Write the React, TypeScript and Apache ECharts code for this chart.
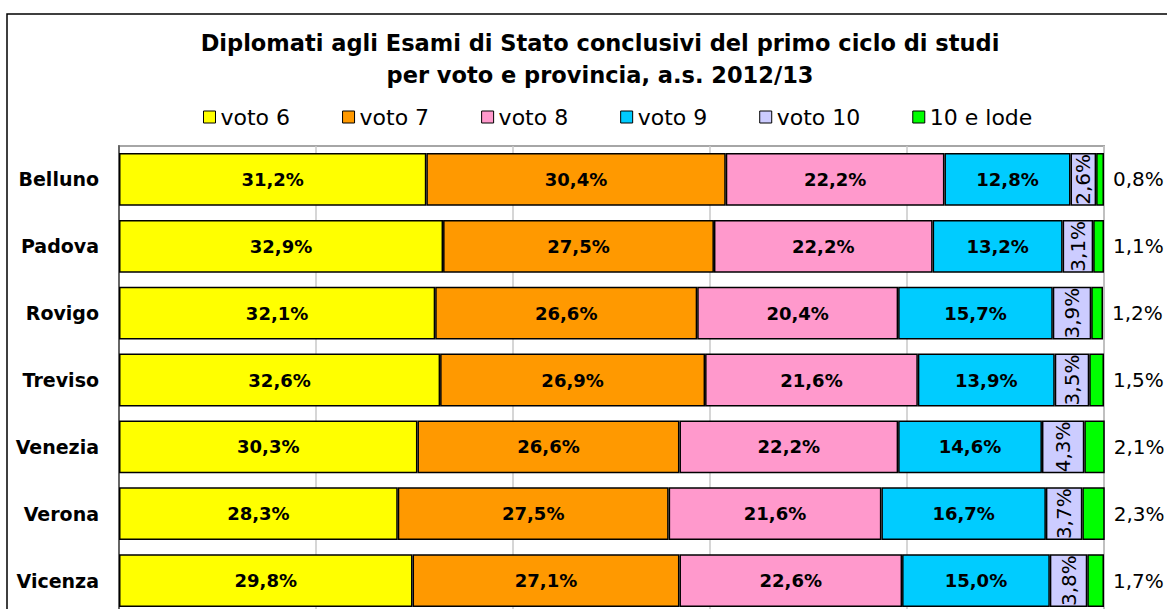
import React, { useEffect, useRef } from "react";
import * as echarts from "echarts";

const provinces = ["Belluno", "Padova", "Rovigo", "Treviso", "Venezia", "Verona", "Vicenza"];
const seriesNames = ["voto 6", "voto 7", "voto 8", "voto 9", "voto 10", "10 e lode"];
const voto6 = [31.2, 32.9, 32.1, 32.6, 30.3, 28.3, 29.8];
const voto7 = [30.4, 27.5, 26.6, 26.9, 26.6, 27.5, 27.1];
const voto8 = [22.2, 22.2, 20.4, 21.6, 22.2, 21.6, 22.6];
const voto9 = [12.8, 13.2, 15.7, 13.9, 14.6, 16.7, 15.0];
const voto10 = [2.6, 3.1, 3.9, 3.5, 4.3, 3.7, 3.8];
const lode = [0.8, 1.1, 1.2, 1.5, 2.1, 2.3, 1.7];
const colors = ["#FFFF00", "#FF9900", "#FF99CC", "#00CCFF", "#CCCCFF", "#00FF00"];
const titleLines = [
  "Diplomati agli Esami di Stato conclusivi del primo ciclo di studi",
  "per voto e provincia, a.s. 2012/13",
];

const fmt = (v: number) => v.toFixed(1).replace(".", ",") + "%";

export default function App() {
  const ref = useRef<HTMLDivElement>(null);
  useEffect(() => {
    if (!ref.current) return;
    const chart = echarts.init(ref.current, null, { renderer: "svg" });
    const allData = [voto6, voto7, voto8, voto9, voto10, lode];
    const series = allData.map((d, i) => {
      let label: any = {
        show: true,
        position: "inside",
        color: "#000",
        fontFamily: "DejaVu Sans",
        fontWeight: "bold",
        fontSize: 18,
        formatter: (p: any) => fmt(p.value),
      };
      if (i === 4) {
        label = { ...label, rotate: 90, fontWeight: "normal", fontSize: 20 };
      }
      if (i === 5) {
        label = { ...label, position: "right", distance: 9, fontWeight: "normal", fontSize: 20 };
      }
      return {
        name: seriesNames[i],
        type: "bar",
        stack: "tot",
        data: d,
        barCategoryGap: "21%",
        itemStyle: { color: colors[i], borderColor: "#000", borderWidth: 1.5 },
        label,
      };
    });
    const titleStyle = {
      textAlign: "center",
      textVerticalAlign: "middle",
      fontFamily: "DejaVu Sans",
      fontWeight: "bold",
      fontSize: 22.5,
      fill: "#000",
    };
    chart.setOption({
      animation: false,
      graphic: [
        {
          type: "rect",
          shape: { x: 7, y: 14, width: 1300, height: 800 },
          style: { fill: "none", stroke: "#000", lineWidth: 1.5 },
          silent: true,
        },
        { type: "text", x: 600, y: 43, style: { ...titleStyle, text: titleLines[0] } },
        { type: "text", x: 600, y: 75, style: { ...titleStyle, text: titleLines[1] } },
      ],
      legend: {
        data: seriesNames,
        left: 198,
        top: 101,
        icon: "rect",
        itemWidth: 12,
        itemHeight: 12,
        itemGap: 52,
        itemStyle: { borderColor: "#000", borderWidth: 1 },
        textStyle: { fontFamily: "DejaVu Sans", fontSize: 22, color: "#000" },
      },
      grid: {
        left: 119,
        right: 63,
        top: 146,
        bottom: 6,
        show: true,
        borderColor: "#a6a6a6",
        borderWidth: 2,
        backgroundColor: "transparent",
      },
      xAxis: {
        type: "value",
        min: 0,
        max: 100,
        interval: 20,
        axisLabel: { show: false },
        axisLine: { show: false },
        axisTick: { show: false },
        splitLine: { show: true, lineStyle: { color: "#c8c8c8", width: 1.5 } },
      },
      yAxis: {
        type: "category",
        data: provinces,
        inverse: true,
        axisTick: { show: false },
        axisLine: { show: true, lineStyle: { color: "#666", width: 2 } },
        axisLabel: {
          margin: 20,
          color: "#000",
          fontFamily: "DejaVu Sans",
          fontWeight: "bold",
          fontSize: 19,
        },
      },
      series,
    });
    return () => chart.dispose();
  }, []);
  return (
    <div
      ref={ref}
      style={{ position: "fixed", left: 0, top: 0, width: 1167, height: 620, background: "#fff" }}
    />
  );
}
